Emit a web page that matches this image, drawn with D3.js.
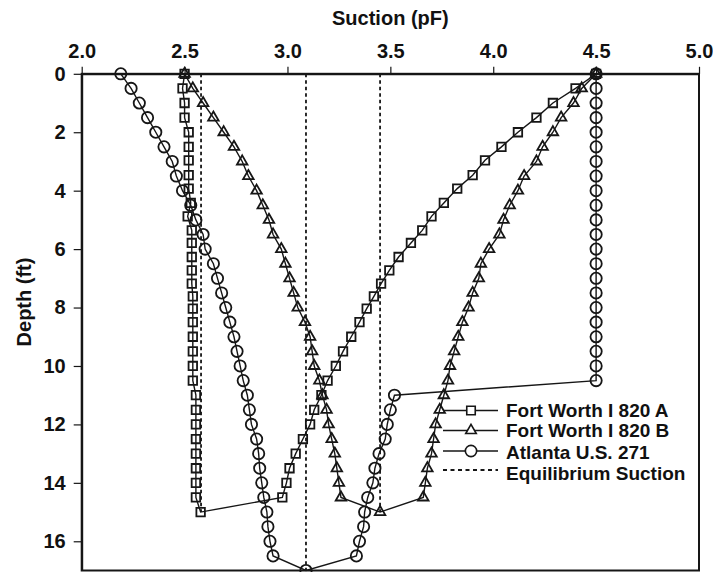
<!DOCTYPE html>
<html>
<head>
<meta charset="utf-8">
<script src="https://cdn.jsdelivr.net/npm/d3@7/dist/d3.min.js"></script>
<style>
  html, body { margin: 0; padding: 0; background: #fff; }
  svg { display: block; }
  text { font-family: "Liberation Sans", Arial, Helvetica, sans-serif; font-weight: bold; fill: #111; }
</style>
</head>
<body>
<svg id="chart" width="713" height="572"></svg>
<script>
// Suction profiles (pF) against depth (ft) for three sites.

const suctionTicks = [2.0, 2.5, 3.0, 3.5, 4.0, 4.5, 5.0];
const depthTicks = [0, 2, 4, 6, 8, 10, 12, 14, 16];

// Fort Worth I 820 A
const fwA_depth = [0, 0.5, 1, 1.5, 2, 2.5, 2.96, 3.47, 3.93, 4.42, 4.88, 5.36, 5.79, 6.27, 6.73, 7.18, 7.62, 8.04,
  8.5, 9, 9.5, 10, 10.5, 11, 11.5, 12, 12.5, 13, 13.5, 14, 14.5];
const fwA_wet = [2.50, 2.49, 2.50, 2.50, 2.52, 2.52, 2.52, 2.52, 2.52, 2.53, 2.515, 2.535, 2.535, 2.535, 2.535, 2.535, 2.54, 2.54,
  2.54, 2.54, 2.54, 2.54, 2.54, 2.555, 2.555, 2.555, 2.555, 2.555, 2.555, 2.555, 2.555];
const fwA_dry = [4.50, 4.40, 4.29, 4.21, 4.12, 4.04, 3.96, 3.90, 3.825, 3.76, 3.70, 3.655, 3.60, 3.54, 3.495, 3.455, 3.42, 3.385,
  3.35, 3.31, 3.27, 3.235, 3.195, 3.165, 3.13, 3.11, 3.075, 3.04, 3.01, 2.995, 2.975];
const fwA_base = { suction: 2.578, depth: 15 };

// Fort Worth I 820 B
const fwB_depth = [0, 0.5, 1, 1.5, 2, 2.5, 3, 3.5, 4, 4.5, 5, 5.5, 6, 6.5, 7, 7.5, 8, 8.5, 9, 9.5,
  10, 10.5, 11, 11.5, 12, 12.5, 13, 13.5, 14, 14.5];
const fwB_wet = [2.50, 2.54, 2.59, 2.64, 2.69, 2.74, 2.78, 2.81, 2.85, 2.88, 2.91, 2.93, 2.97, 2.99, 3.01, 3.03, 3.05, 3.085, 3.11, 3.12,
  3.13, 3.155, 3.17, 3.19, 3.20, 3.215, 3.23, 3.24, 3.25, 3.26];
const fwB_dry = [4.50, 4.43, 4.39, 4.33, 4.29, 4.24, 4.21, 4.15, 4.12, 4.08, 4.05, 4.03, 3.98, 3.94, 3.93, 3.90, 3.88, 3.85, 3.83, 3.81,
  3.79, 3.78, 3.76, 3.74, 3.72, 3.71, 3.70, 3.68, 3.67, 3.66];
const fwB_base = { suction: 3.45, depth: 15 };

// Atlanta U.S. 271
const atl_wetDepth = [0, 0.5, 1, 1.5, 2, 2.5, 3, 3.5, 4, 4.5, 5, 5.5, 6, 6.5, 7, 7.5, 8, 8.5, 9, 9.5,
  10, 10.5, 11, 11.5, 12, 12.5, 13, 13.5, 14, 14.5, 15, 15.5, 16, 16.5];
const atl_wet = [2.19, 2.24, 2.28, 2.32, 2.36, 2.40, 2.44, 2.46, 2.49, 2.53, 2.555, 2.59, 2.60, 2.64, 2.66, 2.68, 2.70, 2.72, 2.74, 2.755,
  2.77, 2.785, 2.805, 2.815, 2.825, 2.85, 2.86, 2.865, 2.875, 2.885, 2.90, 2.905, 2.915, 2.93];
const atl_base = { suction: 3.09, depth: 17 };
const atl_midDepth = [11, 11.5, 12, 12.5, 13, 13.5, 14, 14.5, 15, 15.5, 16, 16.5];
const atl_mid = [3.52, 3.50, 3.485, 3.475, 3.445, 3.425, 3.415, 3.39, 3.375, 3.37, 3.35, 3.335];
const atl_dryDepth = [0, 0.5, 1, 1.5, 2, 2.5, 3, 3.5, 4, 4.5, 5, 5.5, 6, 6.5, 7, 7.5, 8, 8.5, 9, 9.5, 10, 10.5];
const atl_dry = [4.5, 4.5, 4.5, 4.5, 4.5, 4.5, 4.5, 4.5, 4.5, 4.5, 4.5, 4.5, 4.5, 4.5, 4.5, 4.5, 4.5, 4.5, 4.5, 4.5, 4.5, 4.5];

// Equilibrium suction for each site, drawn down to the bottom of its profile
const eqSuction = [2.58, 3.09, 3.45];
const eqDepth = [15, 17, 15];

const legendLabels = ["Fort Worth I 820 A", "Fort Worth I 820 B", "Atlanta U.S. 271", "Equilibrium Suction"];

// ---- assemble each profile as one continuous path ----
const zipPts = (s, d) => s.map((v, i) => ({ suction: v, depth: d[i] }));

const seriesA = [...zipPts(fwA_wet, fwA_depth), fwA_base, ...zipPts(fwA_dry, fwA_depth).reverse()];
const seriesB = [...zipPts(fwB_wet, fwB_depth), fwB_base, ...zipPts(fwB_dry, fwB_depth).reverse()];
const seriesAtl = [...zipPts(atl_wet, atl_wetDepth), atl_base, ...zipPts(atl_mid, atl_midDepth).reverse(),
  ...zipPts(atl_dry, atl_dryDepth).reverse()];

const svg = d3.select("#chart");
const ink = "#161616";

const x = d3.scaleLinear().domain([2, 5]).range([81.7, 699]);
const y = d3.scaleLinear().domain([0, 17]).range([73.8, 570.5]);

// Frame (right and bottom sides)
svg.append("rect")
  .attr("x", x(2)).attr("y", y(0))
  .attr("width", x(5) - x(2)).attr("height", y(17) - y(0))
  .attr("fill", "none").attr("stroke", ink).attr("stroke-width", 2);

// Axes
const topAxis = d3.axisTop(x).tickValues(suctionTicks).tickFormat(d3.format(".1f")).tickSize(7).tickPadding(9).tickSizeOuter(0);
const leftAxis = d3.axisLeft(y).tickValues(depthTicks).tickFormat(d3.format("d")).tickSize(8).tickPadding(8).tickSizeOuter(0);

const gTop = svg.append("g").attr("transform", `translate(0,${y(0)})`).call(topAxis);
const gLeft = svg.append("g").attr("transform", `translate(${x(2)},0)`).call(leftAxis);
[gTop, gLeft].forEach(g => {
  g.select(".domain").attr("stroke", ink).attr("stroke-width", 2);
  g.selectAll(".tick line").attr("stroke", ink).attr("stroke-width", 1.2);
  g.selectAll(".tick text").attr("font-size", 20).attr("font-family", null).attr("fill", ink);
});

// Axis titles
svg.append("text").attr("x", (x(2) + x(5)) / 2).attr("y", 25)
  .attr("text-anchor", "middle").attr("font-size", 20).text("Suction (pF)");
svg.append("text").attr("transform", "translate(31,302) rotate(-90)")
  .attr("text-anchor", "middle").attr("font-size", 20).text("Depth (ft)");

// Equilibrium suction lines
svg.append("g").selectAll("line").data(eqSuction).join("line")
  .attr("x1", d => x(d)).attr("x2", d => x(d))
  .attr("y1", y(0)).attr("y2", (d, i) => y(eqDepth[i]))
  .attr("stroke", ink).attr("stroke-width", 1.8).attr("stroke-dasharray", "3.5,3");

// Profiles
const line = d3.line().x(d => x(d.suction)).y(d => y(d.depth));
const profiles = [
  { data: seriesA, symbol: d3.symbolSquare, size: 72 },
  { data: seriesB, symbol: d3.symbolTriangle, size: 48 },
  { data: seriesAtl, symbol: d3.symbolCircle, size: 100 }
];

profiles.forEach(p => {
  svg.append("path").datum(p.data).attr("d", line)
    .attr("fill", "none").attr("stroke", ink).attr("stroke-width", 1.4);
  svg.append("g").selectAll("path").data(p.data).join("path")
    .attr("transform", d => `translate(${x(d.suction)},${y(d.depth)})`)
    .attr("d", d3.symbol().type(p.symbol).size(p.size))
    .attr("fill", "none").attr("stroke", ink).attr("stroke-width", 1.8);
});

// Legend
const legend = svg.append("g").attr("transform", "translate(443,0)");
const rowY = [410.5, 430.5, 451, 470];
const textY = [417, 437, 459, 480];
legendLabels.forEach((label, i) => {
  const g = legend.append("g");
  if (i < 3) {
    g.append("line").attr("x1", 0).attr("x2", 55).attr("y1", rowY[i]).attr("y2", rowY[i])
      .attr("stroke", ink).attr("stroke-width", 1.4);
    g.append("path").attr("transform", `translate(28,${rowY[i]})`)
      .attr("d", d3.symbol().type(profiles[i].symbol).size(profiles[i].size))
      .attr("fill", "#fff").attr("stroke", ink).attr("stroke-width", 1.6);
  } else {
    g.append("line").attr("x1", 0).attr("x2", 55).attr("y1", rowY[i]).attr("y2", rowY[i])
      .attr("stroke", ink).attr("stroke-width", 1.8).attr("stroke-dasharray", "4,3.5");
  }
  g.append("text").attr("x", 63).attr("y", textY[i]).attr("font-size", 19).text(label);
});
</script>
</body>
</html>
